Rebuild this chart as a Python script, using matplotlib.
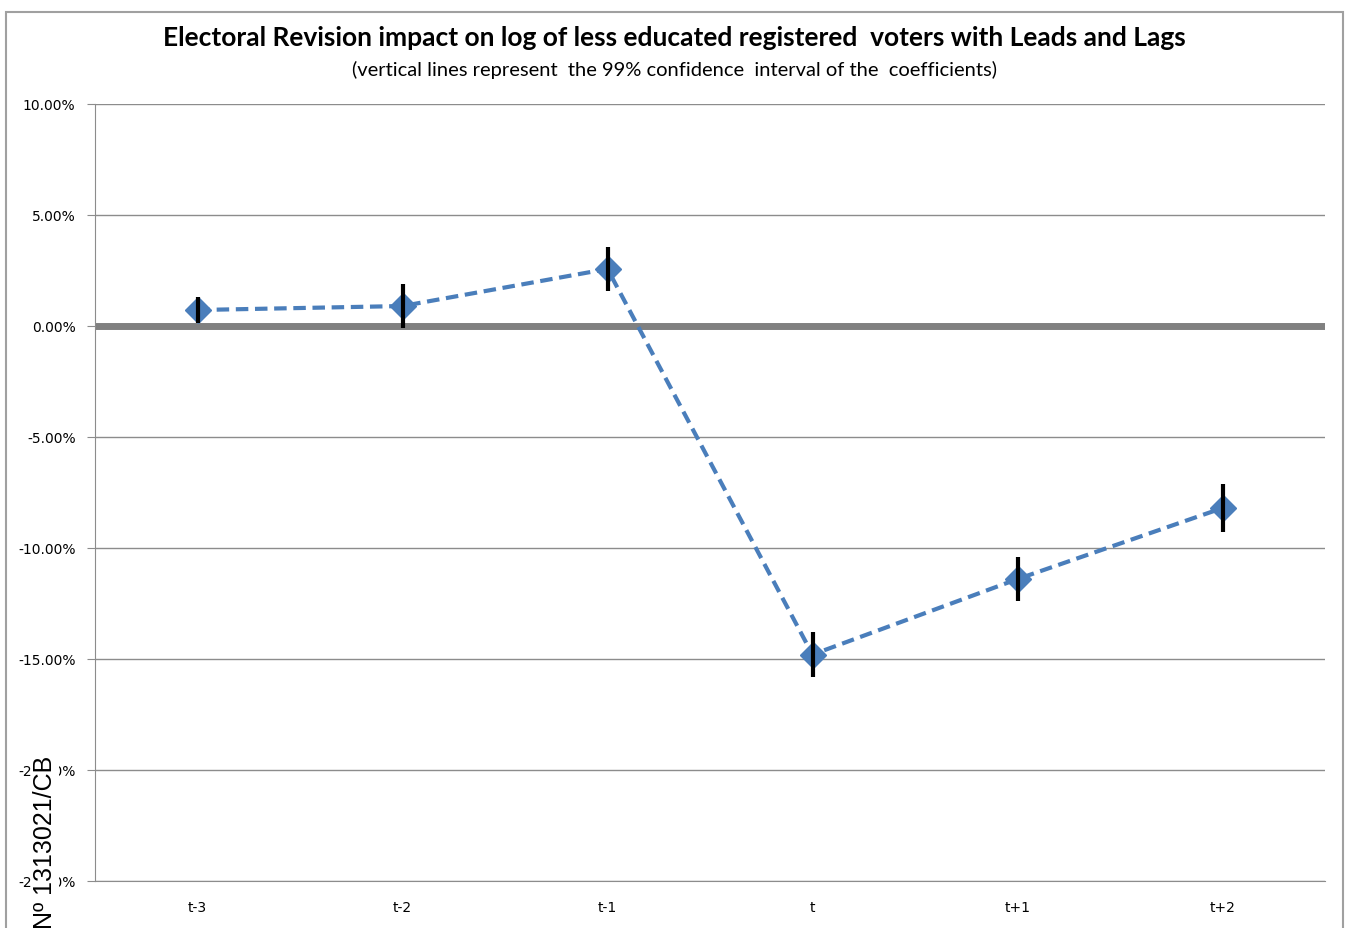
import matplotlib.pyplot as plt
from matplotlib.ticker import FuncFormatter

# coefficients (in %) and half-width of 99% CI
periods = ['t-3', 't-2', 't-1', 't', 't+1', 't+2']
coef = [0.72, 0.90, 2.57, -14.80, -11.40, -8.20]
ci_half = [0.60, 1.00, 1.00, 1.00, 1.00, 1.10]

fig = plt.figure(figsize=(13.49, 9.29), dpi=100)
ax = fig.add_axes([95 / 1349, 1 - 882 / 929, 1230 / 1349, 777 / 929])

x = [i + 0.5 for i in range(len(periods))]
blue = '#4a7ebb'

ax.plot(x, coef, linestyle=(0, (3, 1.6)), color=blue, lw=3, zorder=3)
ax.plot(x, coef, linestyle='none', marker='D', ms=13, color=blue, zorder=4)
ax.errorbar(x, coef, yerr=ci_half, fmt='none', ecolor='black', elinewidth=3,
            capsize=0, zorder=5)

ax.axhline(0, color='#808080', lw=5, zorder=2)

ax.set_xlim(0, 6)
ax.set_ylim(-25, 10)
ax.set_yticks([10, 5, 0, -5, -10, -15, -20, -25])
ax.yaxis.set_major_formatter(FuncFormatter(lambda v, p: '{:.2f}%'.format(v)))
ax.set_xticks(x)
ax.set_xticklabels(periods)
ax.grid(axis='y', color='#8c8c8c', lw=1)
ax.set_axisbelow(True)

for side in ['top', 'right']:
    ax.spines[side].set_visible(False)
ax.spines['left'].set_color('#8c8c8c')
ax.spines['bottom'].set_color('#8c8c8c')
ax.tick_params(axis='y', length=6, color='#8c8c8c', labelsize=10, pad=8)
ax.tick_params(axis='x', length=0, labelsize=10, pad=14)

fig.text(0.5, 1 - 38 / 929, 'Electoral Revision impact on log of less educated registered  voters with Leads and Lags',
         ha='center', va='center', fontsize=19, fontweight='bold', family='Lato')
fig.text(0.5, 1 - 70 / 929, '(vertical lines represent  the 99% confidence  interval of the  coefficients)',
         ha='center', va='center', fontsize=14.5, family='Lato')

fig.text(45 / 1349, 0.0, 'Nº 1313021/CB', rotation=90, ha='center', va='bottom',
         fontsize=18, family='Liberation Sans',
         bbox=dict(facecolor='white', edgecolor='none', pad=1))

# outer border
fig.patches.append(plt.Rectangle((6 / 1349, -0.01), 1 - 12 / 1349, 1 - 4 / 929,
                                 transform=fig.transFigure, fill=False,
                                 edgecolor='#a0a0a0', lw=1.5))

fig.savefig('out.png', dpi=100)
